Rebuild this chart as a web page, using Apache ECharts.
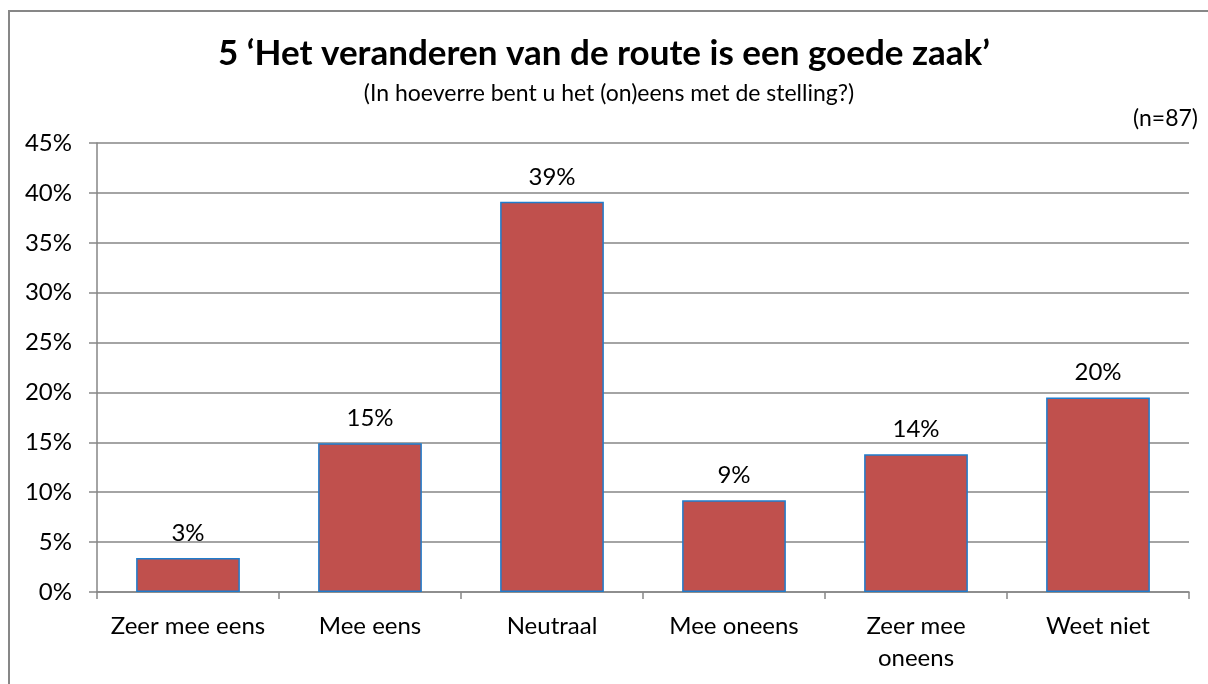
<!DOCTYPE html>
<html>
<head>
<meta charset="utf-8">
<script src="https://cdn.jsdelivr.net/npm/echarts@6/dist/echarts.min.js"></script>
<style>
    html, body { margin: 0; padding: 0; background: #fff; }
    #chart { width: 1208px; height: 684px; }
</style>
</head>
<body>
<div id="chart"></div>
<script>
// antwoordcategorieen en percentages (n=87)
const categories = ['Zeer mee eens', 'Mee eens', 'Neutraal', 'Mee oneens', 'Zeer mee\noneens', 'Weet niet']
const percentages = [3.4, 14.9, 39.1, 9.2, 13.8, 19.5]
const yTicks = [0, 5, 10, 15, 20, 25, 30, 35, 40, 45]

const font = 'Lato, "Open Sans", sans-serif'

const chart = echarts.init(document.getElementById('chart'))
chart.setOption({
    animation: false,
    textStyle: { fontFamily: font },
    graphic: [
        {
            type: 'rect',
            shape: { x: 9, y: 11, width: 1210, height: 690 },
            style: { fill: 'none', stroke: '#878787', lineWidth: 2 }
        },
        {
            type: 'text',
            x: 604,
            y: 54,
            style: {
                text: '5 \u2018Het veranderen van de route is een goede zaak\u2019',
                font: 'bold 35px ' + font,
                fill: '#000',
                align: 'center',
                verticalAlign: 'middle'
            }
        },
        {
            type: 'text',
            x: 609,
            y: 94,
            style: {
                text: '(In hoeverre bent u het (on)eens met de stelling?)',
                font: '23px ' + font,
                fill: '#000',
                align: 'center',
                verticalAlign: 'middle'
            }
        },
        {
            type: 'text',
            x: 1198,
            y: 119,
            style: {
                text: '(n=87)',
                font: '23px ' + font,
                fill: '#000',
                align: 'right',
                verticalAlign: 'middle'
            }
        }
    ],
    grid: { left: 97, right: 19, top: 143, bottom: 92 },
    xAxis: {
        type: 'category',
        data: categories,
        axisLine: { lineStyle: { color: '#868686', width: 1.5 } },
        axisTick: { show: true, length: 7, lineStyle: { color: '#868686', width: 1.5 } },
        axisLabel: { color: '#000', fontSize: 24, margin: 18, lineHeight: 32, interval: 0 }
    },
    yAxis: {
        type: 'value',
        min: 0,
        max: 45,
        interval: 5,
        axisLine: { show: true, lineStyle: { color: '#868686', width: 1.5 } },
        axisTick: { show: true, length: 8, lineStyle: { color: '#868686', width: 1.5 } },
        splitLine: { lineStyle: { color: '#868686', width: 1.5 } },
        axisLabel: {
            color: '#000',
            fontSize: 24,
            margin: 25,
            formatter: v => (yTicks.includes(v) ? v + '%' : '')
        }
    },
    series: [
        {
            type: 'bar',
            data: percentages,
            barWidth: '57%',
            itemStyle: { color: '#C0504D', borderColor: '#1F7CCC', borderWidth: 1.5 },
            label: {
                show: true,
                position: 'top',
                distance: 13,
                color: '#000',
                fontSize: 24,
                formatter: p => Math.round(p.value) + '%'
            }
        }
    ]
})
</script>
</body>
</html>
